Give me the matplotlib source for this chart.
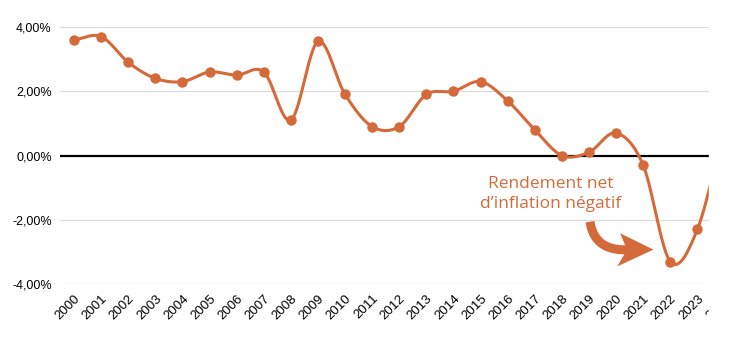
import numpy as np
import matplotlib
matplotlib.use('Agg')
import matplotlib.pyplot as plt
from matplotlib.patches import Polygon, Rectangle

# rendement net d'inflation (%)
annees = list(range(2000, 2025))
rendement = [3.6, 3.7, 2.9, 2.4, 2.3, 2.6, 2.5, 2.6, 1.1, 3.55,
             1.9, 0.9, 0.9, 1.9, 2.0, 2.3, 1.7, 0.8, 0.0, 0.1,
             0.7, -0.3, -3.3, -2.3, 0.9]
yticks = [-4, -2, 0, 2, 4]

ORANGE = '#D46A3A'


def lissage(x, y, n=30):
  # courbe lissee type Catmull-Rom (comme les courbes lissees d'un tableur)
  x = np.asarray(x, float)
  y = np.asarray(y, float)
  px = np.concatenate([[2 * x[0] - x[1]], x, [2 * x[-1] - x[-2]]])
  py = np.concatenate([[2 * y[0] - y[1]], y, [2 * y[-1] - y[-2]]])
  xs, ys = [], []
  t = np.linspace(0, 1, n, endpoint=False)
  for i in range(1, len(px) - 2):
    for p, out in ((px, xs), (py, ys)):
      p0, p1, p2, p3 = p[i - 1], p[i], p[i + 1], p[i + 2]
      out.extend(0.5 * (2 * p1 + (-p0 + p2) * t
                        + (2 * p0 - 5 * p1 + 4 * p2 - p3) * t ** 2
                        + (-p0 + 3 * p1 - 3 * p2 + p3) * t ** 3))
  xs.append(x[-1])
  ys.append(y[-1])
  return np.array(xs), np.array(ys)


plt.rcParams['font.family'] = ['Liberation Sans', 'DejaVu Sans']
fig = plt.figure(figsize=(7.3, 3.4), dpi=100)
ax = fig.add_axes([60 / 730, 56 / 340, 678 / 730, 257 / 340])

ax.set_xlim(1999.48, 2024.5)
ax.set_ylim(-4, 4)

for v in yticks:
  if v != 0:
    ax.axhline(v, color='#dcdcdc', lw=0.9, zorder=1)
ax.axhline(0, color='black', lw=1.6, zorder=2)

xs, ys = lissage(annees, rendement)
ax.plot(xs, ys, color=ORANGE, lw=2.2, zorder=3, solid_capstyle='round')
ax.plot(annees, rendement, 'o', color=ORANGE, ms=6.5, zorder=4, clip_on=False)

ax.set_yticks(yticks)
ax.set_yticklabels([f'{v:.2f}%'.replace('.', ',') for v in yticks], fontsize=9)
ax.set_xticks(annees)
ax.set_xticklabels([str(a) for a in annees], rotation=45, ha='right',
                   va='top', rotation_mode='anchor', fontsize=9.5)
ax.tick_params(length=0, pad=6)
for s in ax.spines.values():
  s.set_visible(False)

ax.text(2017.6, -1.2, "Rendement net\nd\u2019inflation négatif", color=ORANGE,
        ha='center', va='center', fontsize=12.5, linespacing=1.3,
        family=['Open Sans', 'DejaVu Sans'])

# fleche courbe : queue en bezier + pointe
t = np.linspace(0, 1, 40)
p0, pc, p1 = np.array([2019.04, -2.06]), np.array([2019.2, -3.0]), np.array([2020.5, -2.93])
queue = ((1 - t) ** 2)[:, None] * p0 + (2 * t * (1 - t))[:, None] * pc + (t ** 2)[:, None] * p1
ax.plot(queue[:, 0], queue[:, 1], color=ORANGE, lw=6.5, solid_capstyle='butt', zorder=5)
pointe = Polygon([[2021.38, -2.93], [2020.15, -2.42], [2020.4, -2.93], [2020.05, -3.45]],
                 closed=True, color=ORANGE, lw=0, zorder=5)
ax.add_patch(pointe)

# l'image d'origine est coupee a droite
fig.add_artist(Rectangle((709 / 730, 0), 1, 1, transform=fig.transFigure,
                         color='white', zorder=10))

fig.savefig('out.png', dpi=100, facecolor='white')
